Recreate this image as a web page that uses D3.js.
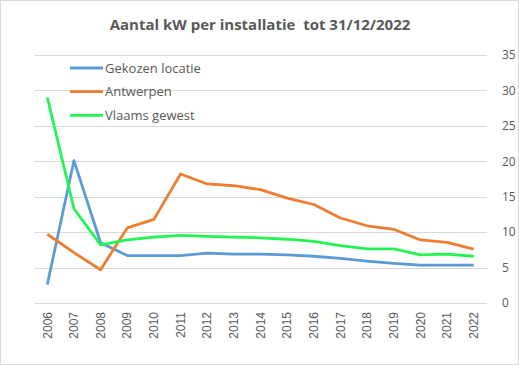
<!DOCTYPE html>
<html>
<head>
<meta charset="utf-8">
<style>
body { margin: 0; background: #fff; }
svg { display: block; font-family: "Liberation Sans", Arial, sans-serif; }
.grid line { stroke: #d9d9d9; stroke-width: 1px; }
.serie { fill: none; stroke-width: 2.8px; stroke-linejoin: round; }
</style>
<script src="https://d3js.org/d3.v7.min.js"></script>
</head>
<body>
<svg width="519" height="365"></svg>
<script>

var years = ["2006","2007","2008","2009","2010","2011","2012","2013","2014","2015","2016","2017","2018","2019","2020","2021","2022"];
var gekozen = [2.6, 20.1, 8.5, 6.7, 6.7, 6.7, 7.05, 6.9, 6.9, 6.8, 6.6, 6.3, 5.9, 5.6, 5.35, 5.35, 5.35];
var antwerpen = [9.7, 7.1, 4.7, 10.6, 11.8, 18.2, 16.8, 16.55, 16.0, 14.8, 13.9, 12.0, 10.9, 10.4, 8.9, 8.55, 7.6];
var vlaams = [29.0, 13.3, 8.2, 8.9, 9.3, 9.55, 9.4, 9.3, 9.2, 9.0, 8.7, 8.1, 7.65, 7.65, 6.8, 6.9, 6.6];
var yTicks = [0, 5, 10, 15, 20, 25, 30, 35];

var series = [
  { name: "Gekozen locatie", values: gekozen, color: "#5b9bd5" },
  { name: "Antwerpen", values: antwerpen, color: "#ed7d31" },
  { name: "Vlaams gewest", values: vlaams, color: "#22f552" }
];

var svg = d3.select("svg"),
    width = +svg.attr("width"),
    height = +svg.attr("height");

// chart border
svg.append("rect")
    .attr("x", 0.5).attr("y", 0.5)
    .attr("width", width - 1).attr("height", height - 1)
    .attr("fill", "#fff").attr("stroke", "#d9d9d9");

var plotLeft = 34, plotRight = 487, plotTop = 55, plotBottom = 303;

var x = d3.scaleBand().domain(years).range([plotLeft, plotRight]);
var y = d3.scaleLinear().domain([0, 35]).range([plotBottom, plotTop]);

// gridlines
svg.append("g").attr("class", "grid")
  .selectAll("line")
  .data(yTicks)
  .enter().append("line")
    .attr("x1", plotLeft).attr("x2", plotRight)
    .attr("y1", function(d) { return Math.round(y(d)) + 0.5; })
    .attr("y2", function(d) { return Math.round(y(d)) + 0.5; });

// right axis
var yAxis = svg.append("g")
    .attr("transform", "translate(" + plotRight + ",0)")
    .call(d3.axisRight(y).tickValues(yTicks).tickSize(0).tickPadding(15));
yAxis.select(".domain").remove();
yAxis.selectAll("text")
    .attr("fill", "#595959")
    .style("font-size", "12px")
    .style("font-family", "'Open Sans', sans-serif");

// x axis
var xAxis = svg.append("g")
    .attr("transform", "translate(0," + plotBottom + ")")
    .call(d3.axisBottom(x).tickSize(0));
xAxis.select(".domain").remove();
xAxis.selectAll("text")
    .attr("fill", "#595959")
    .style("font-size", "12px")
    .attr("transform", "rotate(-90)")
    .attr("text-anchor", "end")
    .attr("x", -9)
    .attr("y", 0)
    .attr("dy", "0.35em");

// lines
var line = d3.line()
    .x(function(d, i) { return x(years[i]) + x.bandwidth() / 2; })
    .y(function(d) { return y(d); });

svg.selectAll(".serie")
    .data(series)
    .enter().append("path")
    .attr("class", "serie")
    .attr("stroke", function(d) { return d.color; })
    .attr("d", function(d) { return line(d.values); });

// legend
var legend = svg.selectAll(".legend")
    .data(series)
    .enter().append("g")
    .attr("class", "legend")
    .attr("transform", function(d, i) { return "translate(70," + (68 + i * 23.7) + ")"; });

legend.append("line")
    .attr("x1", 0).attr("x2", 33)
    .attr("stroke", function(d) { return d.color; })
    .attr("stroke-width", 2.8);

legend.append("text")
    .attr("x", 35)
    .attr("dy", "0.35em")
    .attr("fill", "#595959")
    .style("font-size", "13px")
    .style("font-family", "'Open Sans', sans-serif")
    .text(function(d) { return d.name; });

// title
svg.append("text")
    .attr("x", 260)
    .attr("y", 30)
    .attr("text-anchor", "middle")
    .attr("fill", "#595959")
    .style("font-size", "15px")
    .style("font-weight", "bold")
    .style("white-space", "pre")
    .style("font-family", "'Open Sans', sans-serif")
    .text("Aantal kW per installatie  tot 31/12/2022");

</script>
</body>
</html>
